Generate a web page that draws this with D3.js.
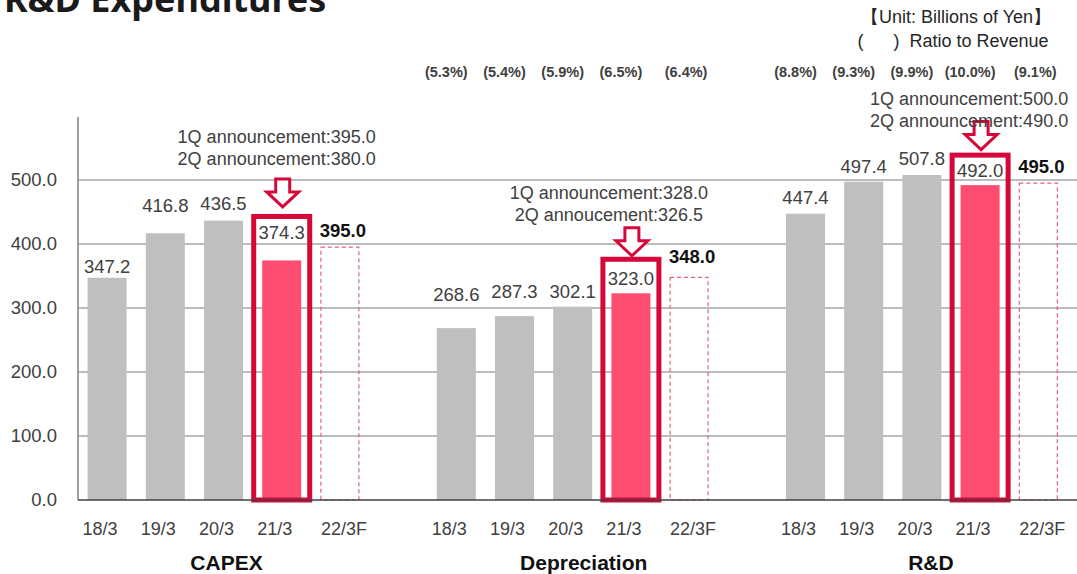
<!DOCTYPE html>
<html>
<head>
<meta charset="utf-8">
<script src="https://cdn.jsdelivr.net/npm/d3@7"></script>
<style>
  html, body { margin: 0; padding: 0; background: #fff; }
  svg { display: block; }
  text { font-family: "Liberation Sans", Arial, sans-serif; }
</style>
</head>
<body>
<svg id="chart" width="1077" height="574"></svg>
<script>
// ---- data ----
const groups = ["CAPEX", "Depreciation", "R&D"];
const periods = ["18/3", "19/3", "20/3", "21/3", "22/3F"];
const capex = [347.2, 416.8, 436.5, 374.3, 395.0];
const depreciation = [268.6, 287.3, 302.1, 323.0, 348.0];
const rnd = [447.4, 497.4, 507.8, 492.0, 495.0];
const ratioCapex = [];
const ratioDepreciation = ["(5.3%)", "(5.4%)", "(5.9%)", "(6.5%)", "(6.4%)"];
const ratioRnd = ["(8.8%)", "(9.3%)", "(9.9%)", "(10.0%)", "(9.1%)"];
const announcements = [
  ["1Q announcement:395.0", "2Q announcement:380.0"],
  ["1Q announcement:328.0", "2Q annoucement:326.5"],
  ["1Q announcement:500.0", "2Q announcement:490.0"]
];
const yTicks = [0, 100, 200, 300, 400, 500];
const title = "R&D Expenditures";
const unitLines = ["【Unit: Billions of Yen】", "(      )  Ratio to Revenue"];

const series = [capex, depreciation, rnd];
const ratios = [ratioCapex, ratioDepreciation, ratioRnd];

// ---- layout (pixels) ----
const labelLift = [[5, 21, 11, 21, 10], [27, 18, 9, 8, 14], [10, 9, 10, 8, 10]];
const boxLift = [44, 34, 30];
const arrowGap = [7, 1, 3];
const annY = [143, 199, 105];
const annDx = [-5, -22, -11];
const groupDx = [3, 11, 9];

const svg = d3.select("#chart");
const W = 1077;

const x0 = d3.scaleBand().domain(groups).range([78, 1067.4]).paddingInner(1 / 6).paddingOuter(0);
const x1 = d3.scaleBand().domain(periods).range([0, x0.bandwidth()]).paddingInner(0.33).paddingOuter(0.165);
const y = d3.scaleLinear().domain([0, 500]).range([500, 180]);

const RED = "#d5083a";
const PINK = "#ff4d72";
const GRAY = "#bfbfbf";

// title
svg.append("text").attr("x", 4).attr("y", 12)
  .style("font-family", "'Noto Sans', 'Open Sans', sans-serif")
  .style("font-weight", 700).style("font-size", "36px").attr("fill", "#1a1a1a")
  .text(title);

// unit text
svg.append("text").attr("x", 956).attr("y", 23).attr("text-anchor", "middle")
  .style("font-size", "18px").attr("fill", "#262626").text(unitLines[0]);
svg.append("text").attr("x", 953).attr("y", 47).attr("text-anchor", "middle")
  .style("font-size", "18px").attr("fill", "#262626").style("white-space", "pre")
  .attr("xml:space", "preserve").text(unitLines[1]);

// gridlines
svg.append("g").selectAll("line").data(yTicks.filter(d => d > 0)).join("line")
  .attr("x1", 78).attr("x2", W).attr("y1", d => y(d)).attr("y2", d => y(d))
  .attr("stroke", "#a6a6a6").attr("stroke-width", 1.3);

// y axis
const yAxis = d3.axisLeft(y).tickValues(yTicks).tickFormat(d3.format(".1f")).tickSize(0).tickPadding(21);
const gy = svg.append("g").attr("transform", "translate(78,0)").call(yAxis);
gy.select(".domain").remove();
gy.selectAll("text").style("font-size", "18.5px").attr("fill", "#404040")
  .style("font-family", "'Liberation Sans', Arial, sans-serif");
svg.append("line").attr("x1", 78).attr("x2", 78).attr("y1", 117).attr("y2", 500)
  .attr("stroke", "#808080").attr("stroke-width", 1.5);

// bars
groups.forEach((g, gi) => {
  const vals = series[gi];
  const gx = x0(g);
  const G = svg.append("g").attr("transform", `translate(${gx},0)`);
  const cx = p => x1(p) + x1.bandwidth() / 2;

  periods.forEach((p, i) => {
    const v = vals[i];
    if (i < 3) {
      G.append("rect").attr("x", x1(p)).attr("width", x1.bandwidth())
        .attr("y", y(v)).attr("height", y(0) - y(v)).attr("fill", GRAY);
    } else if (i === 3) {
      G.append("rect").attr("x", x1(p)).attr("width", x1.bandwidth())
        .attr("y", y(v)).attr("height", y(0) - y(v)).attr("fill", PINK);
      const top = y(v) - boxLift[gi];
      G.append("rect").attr("x", cx(p) - 28).attr("width", 56)
        .attr("y", top).attr("height", y(0) - top)
        .attr("fill", "none").attr("stroke", RED).attr("stroke-width", 5);
      // arrow
      const tip = top - 2.5 - arrowGap[gi];
      const ax = cx(p) + 1;
      const sw = 7, hw = 16, hh = 15, len = 28;
      const pts = [
        [ax - sw, tip - len], [ax + sw, tip - len], [ax + sw, tip - hh],
        [ax + hw, tip - hh], [ax, tip], [ax - hw, tip - hh], [ax - sw, tip - hh]
      ];
      G.append("path").attr("d", d3.line()(pts) + "Z")
        .attr("fill", "#fff").attr("stroke", RED).attr("stroke-width", 3)
        .attr("stroke-linejoin", "miter");
      // annotation
      announcements[gi].forEach((t, k) => {
        G.append("text").attr("x", cx(p) + annDx[gi]).attr("y", annY[gi] + k * 22)
          .attr("text-anchor", "middle").style("font-size", "18px").attr("fill", "#404040")
          .text(t);
      });
    } else {
      G.append("rect").attr("x", x1(p) + 0.5).attr("width", x1.bandwidth() - 1)
        .attr("y", y(v)).attr("height", y(0) - y(v))
        .attr("fill", "none").attr("stroke", "#e5607c").attr("stroke-width", 1.2)
        .attr("stroke-dasharray", "4,3");
    }
    // value label
    const bold = i === 4;
    G.append("text").attr("x", cx(p) + (bold ? 3 : 0)).attr("y", y(v) - labelLift[gi][i])
      .attr("text-anchor", "middle").style("font-size", "18.5px")
      .style("font-weight", bold ? 700 : 400)
      .attr("fill", bold ? "#111" : "#404040")
      .text(d3.format(".1f")(v));
    // ratio label
    if (ratios[gi][i]) {
      G.append("text").attr("x", cx(p) - (i === 4 ? 3 : 10)).attr("y", 77)
        .attr("text-anchor", "middle").style("font-size", "14.5px").style("font-weight", 700)
        .attr("fill", "#404040").text(ratios[gi][i]);
    }
    // period label
    G.append("text").attr("x", cx(p) + (i === 4 ? 4 : -7)).attr("y", 535)
      .attr("text-anchor", "middle").style("font-size", "18px").attr("fill", "#404040")
      .text(p);
  });

  svg.append("text").attr("x", gx + x0.bandwidth() / 2 + groupDx[gi]).attr("y", 570)
    .attr("text-anchor", "middle").style("font-size", "21px").style("font-weight", 700)
    .attr("fill", "#111").text(g);
});

// baseline
svg.append("line").attr("x1", 78).attr("x2", W).attr("y1", y(0)).attr("y2", y(0))
  .attr("stroke", "#404040").attr("stroke-width", 1.5);
</script>
</body>
</html>
